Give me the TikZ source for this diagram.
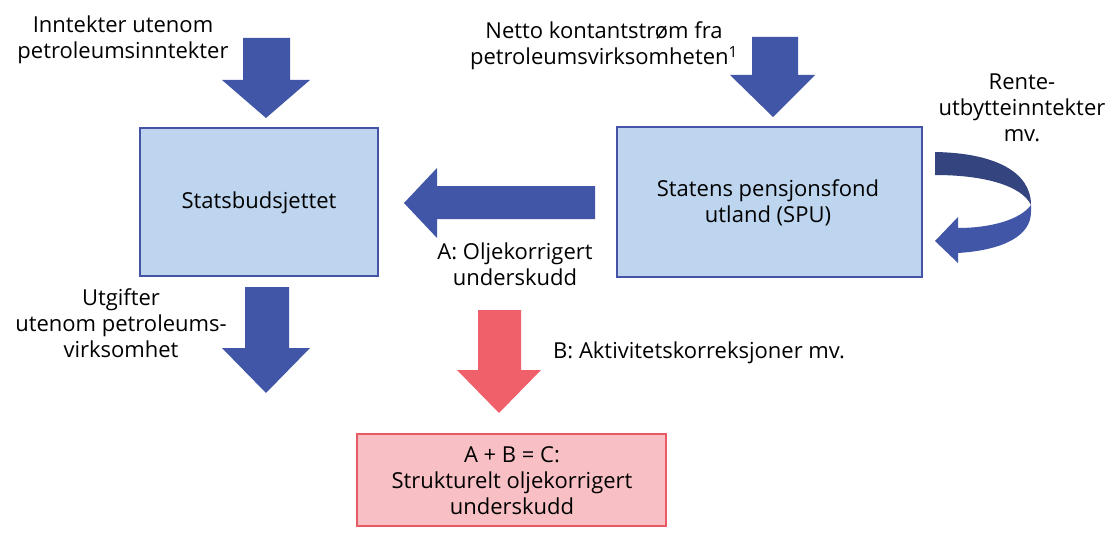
\documentclass[tikz,border=0pt]{standalone}
\usepackage{fontspec}
\setmainfont{Open Sans}
\definecolor{arrblue}{HTML}{4256A8}
\definecolor{arrdark}{HTML}{34447F}
\definecolor{boxblue}{HTML}{BDD5EE}
\definecolor{boxedge}{HTML}{4453A6}
\definecolor{arrred}{HTML}{F0606A}
\definecolor{boxpink}{HTML}{F8C0C4}
\definecolor{pinkedge}{HTML}{E85A64}
\begin{document}
\begin{tikzpicture}[x=1pt,y=-1pt,
  lbl/.style={align=center,font=\fontsize{22}{26}\selectfont,inner sep=0pt},
  bluebox/.style={draw=boxedge,fill=boxblue,line width=1.2pt},
  pinkbox/.style={draw=pinkedge,fill=boxpink,line width=1.2pt},
  barrow/.style={fill=arrblue},
  rarrow/.style={fill=arrred}]
\useasboundingbox (0,0) rectangle (1120,543);
% boxes
\draw[bluebox] (140,128) rectangle (378,276);
\node[lbl] (sb) at (259,203) {Statsbudsjettet};
\draw[bluebox] (617,127) rectangle (922,277);
\node[lbl] (spu) at (768,203) {Statens pensjonsfond\\utland (SPU)};
\draw[pinkbox] (357,434) rectangle (666,526);
\node[lbl] (c) at (512,481) {A + B = C:\\Strukturelt oljekorrigert\\underskudd};
% block arrows
\fill[barrow] (243,38) -- (290,38) -- (290,80) -- (310,80) -- (266,118) -- (222,80) -- (243,80) -- cycle;
\fill[barrow] (752,37) -- (798,37) -- (798,75) -- (815,75) -- (773,117) -- (730,75) -- (752,75) -- cycle;
\fill[barrow] (595,186) -- (437,186) -- (437,168) -- (404,203) -- (437,238) -- (437,219) -- (595,219) -- cycle;
\fill[barrow] (245,287) -- (289,287) -- (289,348) -- (310,348) -- (266,393) -- (222,348) -- (245,348) -- cycle;
\fill[rarrow] (478,310) -- (521,310) -- (521,370) -- (541,370) -- (499,413) -- (457,370) -- (478,370) -- cycle;
% curved arrow
\fill[arrdark] (935,152) .. controls (995,153) and (1031,172) .. (1031,205)
  .. controls (1022,186) and (985,175) .. (935,175) -- cycle;
\fill[arrblue] (1031,205) .. controls (1020,220) and (990,228) .. (958,228)
  -- (958,217) -- (935,241) -- (958,263) -- (958,253)
  .. controls (1005,250) and (1031,235) .. (1031,212) -- cycle;
% labels
\node[lbl] (l1) at (123,40) {Inntekter utenom\\petroleumsinntekter};
\node[lbl] (l2) at (604,46) {Netto kontantstrøm fra\\petroleumsvirksomheten\textsuperscript{1}};
\node[lbl] (l3) at (1022,108) {Rente-\\utbytteinntekter\\mv.};
\node[lbl] (l4) at (515,264) {A: Oljekorrigert\\underskudd};
\node[lbl] (l5) at (121,323) {Utgifter\\utenom petroleums-\\virksomhet};
\node[lbl,anchor=west] (l6) at (553,353) {B: Aktivitetskorreksjoner mv.};
\end{tikzpicture}
\end{document}
